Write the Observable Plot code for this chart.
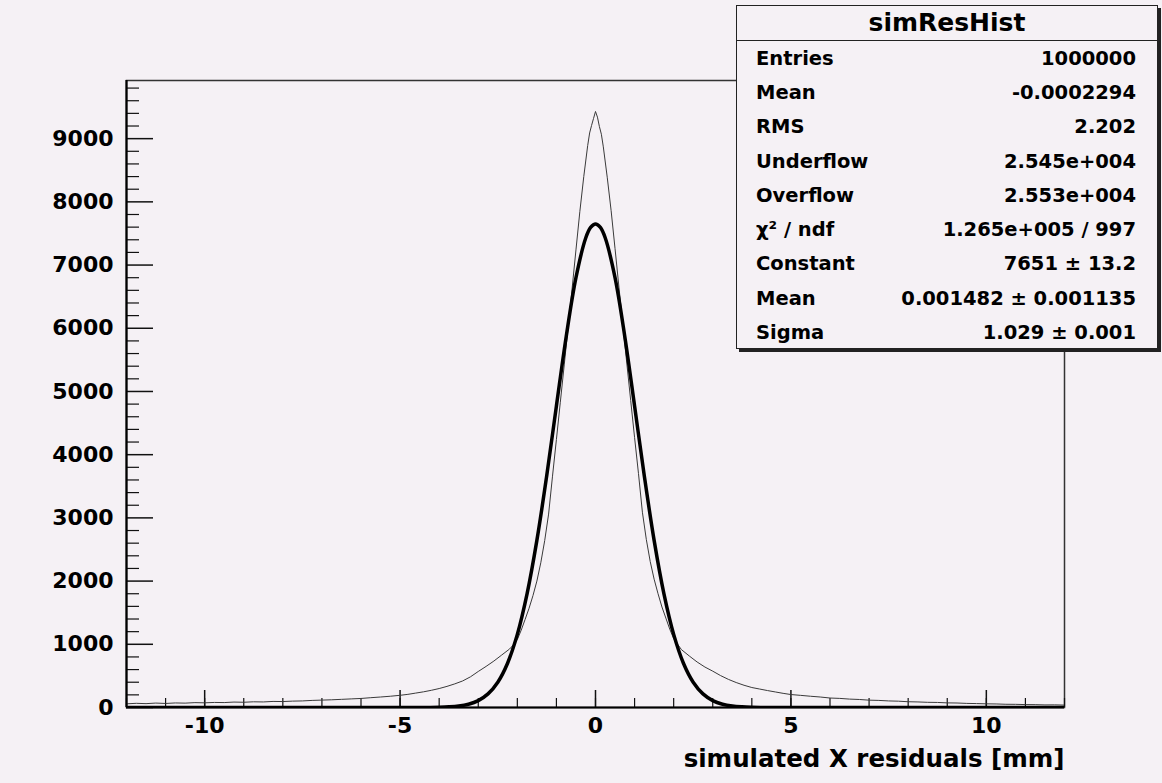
<!DOCTYPE html>
<html><head><meta charset="utf-8">
<script src="https://cdn.jsdelivr.net/npm/d3@7"></script>
<script src="https://cdn.jsdelivr.net/npm/@observablehq/plot@0.6"></script>
<style>
html,body{margin:0;padding:0;background:#f5f1f5;overflow:hidden}
#wrap{position:relative;width:1162px;height:783px}
#stats{position:absolute;left:736px;top:5px;width:422px;height:344px;border:1.5px solid #222;box-shadow:3px 3px 0 #222;background:#f5f1f5;font-family:"DejaVu Sans",sans-serif;font-weight:bold;box-sizing:border-box;color:#000}
#stats .title{height:34px;border-bottom:1.5px solid #222;text-align:center;font-size:25px;line-height:34px}
#stats .row{height:34.3px;display:flex;justify-content:space-between;align-items:center;padding:0 21px 0 19px;font-size:19.5px}
</style></head>
<body><div id="wrap"><div id="chart"></div><div id="stats"></div></div>
<script>
// ---- data ----
const histName = "simResHist";
const xTitle = "simulated X residuals [mm]";
const statLabels = ["Entries","Mean","RMS","Underflow","Overflow","χ² / ndf","Constant","Mean","Sigma"];
const statValues = ["1000000","-0.0002294","2.202","2.545e+004","2.553e+004","1.265e+005 / 997","7651 ± 13.2","0.001482 ± 0.001135","1.029 ± 0.001"];

const xMajor = [-10,-5,0,5,10];
const xMinor = [-12,-11,-10,-9,-8,-7,-6,-5,-4,-3,-2,-1,0,1,2,3,4,5,6,7,8,9,10,11,12];
const yMajor = [0,1000,2000,3000,4000,5000,6000,7000,8000,9000];
const yMinor = [200,400,600,800,1200,1400,1600,1800,2200,2400,2600,2800,3200,3400,3600,3800,4200,4400,4600,4800,5200,5400,5600,5800,6200,6400,6600,6800,7200,7400,7600,7800,8200,8400,8600,8800,9200,9400,9600,9800];

// histogram (bin position, counts)
const histX = [-12,-11.75,-11.5,-11.25,-11,-10.75,-10.5,-10.25,-10,-9.75,-9.5,-9.25,-9,-8.75,-8.5,-8.25,-8,-7.75,-7.5,-7.25,-7,-6.75,-6.5,-6.25,-6,-5.75,-5.5,-5.25,-5,
 -4.8,-4.6,-4.4,-4.2,-4,-3.8,-3.6,-3.4,-3.2,-3,-2.8,-2.6,-2.4,-2.2,-2.1,-2,-1.9,-1.8,-1.7,-1.6,-1.5,-1.4,-1.3,-1.2,-1.1,-1,-0.9,-0.8,-0.7,-0.6,-0.5,-0.4,-0.3,-0.2,-0.15,-0.1,-0.05,0,
 0.05,0.1,0.15,0.2,0.3,0.4,0.5,0.6,0.7,0.8,0.9,1,1.1,1.2,1.3,1.4,1.5,1.6,1.7,1.8,1.9,2,2.1,2.2,2.4,2.6,2.8,3,3.2,3.4,3.6,3.8,4,4.2,4.4,4.6,4.8,5,
 5.25,5.5,5.75,6,6.25,6.5,6.75,7,7.25,7.5,7.75,8,8.25,8.5,8.75,9,9.25,9.5,9.75,10,10.25,10.5,10.75,11,11.25,11.5,11.75,12];
const histY = [58,66,61,70,64,72,69,77,74,80,78,86,83,90,88,96,94,101,104,112,117,122,129,136,143,155,166,178,193,
 208,228,248,272,300,334,374,420,485,570,650,735,830,925,990,1075,1225,1395,1570,1770,2000,2290,2640,3060,3660,4240,4830,5420,6020,6620,7240,7850,8400,8890,9090,9210,9320,9430,
 9340,9190,9070,8870,8390,7860,7260,6650,6050,5450,4860,4270,3700,3090,2660,2310,2030,1800,1590,1415,1240,1090,1000,915,815,720,640,575,505,445,395,352,316,292,268,246,224,205,
 192,178,166,150,144,133,127,116,112,104,100,91,88,82,80,73,71,65,62,58,56,51,50,46,45,41,42,38];

// Gaussian fit curve (position, value)
const fitX = [-12,-6,-5,-4.5,-4.25,-4,-3.75,-3.5,-3.25,-3,-2.75,-2.5,-2.25,-2,-1.75,-1.5,-1.25,-1,-0.75,-0.5,-0.25,-0.125,0,0.125,0.25,0.5,0.75,1,1.25,1.5,1.75,2,2.25,2.5,2.75,3,3.25,3.5,3.75,4,4.25,4.5,5,6,12];
const fitY = [0,0,0,0.5,1.5,4,10,23,52,109,215,400,701,1157,1802,2644,3659,4771,5866,6800,7428,7595,7651,7595,7428,6800,5866,4771,3659,2644,1802,1157,701,400,215,109,52,23,10,4,1.5,0.5,0,0,0];

// ---- build ----
const hist = histX.map((x,i)=>({x, y: histY[i]}));
const fit = fitX.map((x,i)=>({x, y: fitY[i]}));

const W=1162,H=783,mL=126,mR=98,mT=80,mB=76;
const plotH=H-mT-mB, plotW=W-mL-mR;

const chart = Plot.plot({
  width:W, height:H, marginLeft:mL, marginRight:mR, marginTop:mT, marginBottom:mB,
  style:{background:"transparent", fontFamily:"DejaVu Sans, sans-serif", fontWeight:"bold", color:"#000", overflow:"visible"},
  x:{domain:[-12,12]}, y:{domain:[0,9920]},
  marks:[
    Plot.frame({stroke:"#333", strokeWidth:1.5}),
    Plot.ruleX(xMinor,{x:d=>d, insetTop:plotH-9, stroke:"#111", strokeWidth:1.2}),
    Plot.ruleX(xMajor,{x:d=>d, insetTop:plotH-17, stroke:"#111", strokeWidth:1.5}),
    Plot.ruleY(yMinor,{y:d=>d, insetRight:plotW-13, stroke:"#111", strokeWidth:1.2}),
    Plot.ruleY(yMajor,{y:d=>d, insetRight:plotW-27, stroke:"#111", strokeWidth:1.5}),
    Plot.axisX(xMajor,{tickSize:0, tickPadding:10, fontSize:22, tickFormat:d=>String(d), label:null}),
    Plot.axisY(yMajor,{tickSize:0, tickPadding:13, fontSize:22, tickFormat:d=>String(d), label:null}),
    Plot.line(hist,{x:"x", y:"y", stroke:"#3a3a3a", strokeWidth:1, clip:true}),
    Plot.line(fit,{x:"x", y:"y", stroke:"#000", strokeWidth:3.5, curve:"catmull-rom", clip:true}),
    Plot.ruleY([0],{stroke:"#000", strokeWidth:2.2}),
    Plot.ruleX([-12],{stroke:"#000", strokeWidth:2.2}),
    Plot.text([xTitle],{text:d=>d, frameAnchor:"bottom-right", dy:59, textAnchor:"end", fontSize:24.5})
  ]
});
document.getElementById("chart").appendChild(chart);

const stats = document.getElementById("stats");
const t = document.createElement("div"); t.className="title"; t.textContent=histName; stats.appendChild(t);
statLabels.forEach((l,i)=>{
  const r=document.createElement("div"); r.className="row";
  const a=document.createElement("span"); a.textContent=l;
  const b=document.createElement("span"); b.textContent=statValues[i];
  r.appendChild(a); r.appendChild(b); stats.appendChild(r);
});
</script></body></html>
